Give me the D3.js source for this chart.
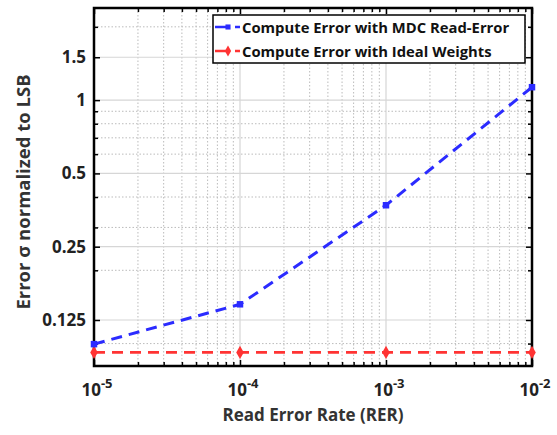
<!DOCTYPE html>
<html>
<head>
<meta charset="utf-8">
<script src="https://cdn.jsdelivr.net/npm/d3@7"></script>
<style>
  body { margin: 0; background: #fff; }
  text { font-family: "Open Sans", Lato, sans-serif; font-weight: bold; }
</style>
</head>
<body>
<div id="chart"></div>
<script>
// values
const rer = [1e-5, 1e-4, 1e-3, 1e-2];
const mdcError = [0.0995, 0.145, 0.37, 1.13];
const idealError = [0.092, 0.092, 0.092, 0.092];
const yMajor = [0.125, 0.25, 0.5, 1, 1.5];
const yMinor = [0.1, 0.2, 0.3, 0.4, 0.6, 0.7, 0.8, 0.9, 2];
const xMajor = [1e-5, 1e-4, 1e-3, 1e-2];
const seriesNames = ["Compute Error with MDC Read-Error", "Compute Error with Ideal Weights"];

const W = 557, H = 435;
const margin = {top: 8, right: 25, bottom: 69, left: 94};
const width = W - margin.left - margin.right,
      height = H - margin.top - margin.bottom;

const svg = d3.select("#chart").append("svg")
  .attr("width", W).attr("height", H);
const g = svg.append("g")
  .attr("transform", "translate(" + margin.left + "," + margin.top + ")");

const x = d3.scaleLog().domain([1e-5, 1e-2]).range([0, width]);
const y = d3.scaleLog().base(2).domain([0.0809, 2.39]).range([height, 0]);

// x minor values 2..9 per decade
const xMinor = [];
for (let e = -5; e < -2; e++) {
  for (let m = 2; m <= 9; m++) xMinor.push(m * Math.pow(10, e));
}

// grid
const grid = g.append("g");
grid.selectAll(".xminor").data(xMinor).join("line")
  .attr("x1", d => x(d)).attr("x2", d => x(d)).attr("y1", 0).attr("y2", height)
  .attr("stroke", "#bbb").attr("stroke-width", 1).attr("stroke-dasharray", "1.5,2");
grid.selectAll(".yminor").data(yMinor).join("line")
  .attr("y1", d => y(d)).attr("y2", d => y(d)).attr("x1", 0).attr("x2", width)
  .attr("stroke", "#bbb").attr("stroke-width", 1).attr("stroke-dasharray", "1.5,2");
grid.selectAll(".xmajor").data(xMajor).join("line")
  .attr("x1", d => x(d)).attr("x2", d => x(d)).attr("y1", 0).attr("y2", height)
  .attr("stroke", "#d6d6d6").attr("stroke-width", 1.2);
grid.selectAll(".ymajor").data(yMajor).join("line")
  .attr("y1", d => y(d)).attr("y2", d => y(d)).attr("x1", 0).attr("x2", width)
  .attr("stroke", "#d6d6d6").attr("stroke-width", 1.2);

// axes with inward ticks
const fmtY = d => String(d);
g.append("g").call(d3.axisLeft(y).tickValues(yMajor).tickFormat(fmtY).tickSize(-6).tickPadding(8))
  .call(a => a.selectAll("text").attr("font-size", 17).attr("fill", "#222"));
g.append("g").call(d3.axisLeft(y).tickValues(yMinor).tickFormat("").tickSize(-4));
g.append("g").attr("transform", "translate(" + width + ",0)")
  .call(d3.axisRight(y).tickValues(yMajor).tickFormat("").tickSize(-6));
g.append("g").attr("transform", "translate(" + width + ",0)")
  .call(d3.axisRight(y).tickValues(yMinor).tickFormat("").tickSize(-4));

g.append("g").attr("transform", "translate(0," + height + ")")
  .call(d3.axisBottom(x).tickValues(xMajor).tickFormat("").tickSize(-6));
g.append("g").attr("transform", "translate(0," + height + ")")
  .call(d3.axisBottom(x).tickValues(xMinor).tickFormat("").tickSize(-4));
g.append("g").call(d3.axisTop(x).tickValues(xMajor).tickFormat("").tickSize(-6));
g.append("g").call(d3.axisTop(x).tickValues(xMinor).tickFormat("").tickSize(-4));
g.selectAll(".domain").remove();
g.selectAll(".tick line").attr("stroke", "#000").attr("stroke-width", 1.5);

// x tick labels with superscript
const xl = g.append("g").selectAll("text").data(xMajor).join("text")
  .attr("x", d => x(d) + 3).attr("y", height + 30)
  .attr("text-anchor", "middle").attr("font-size", 17).attr("fill", "#222");
xl.append("tspan").text("10");
xl.append("tspan").attr("dy", -8).attr("font-size", 13)
  .text(d => "-" + String(-Math.round(Math.log10(d))));

// frame
g.append("rect").attr("width", width).attr("height", height)
  .attr("fill", "none").attr("stroke", "#000").attr("stroke-width", 2.5);

// lines
const line = d3.line().x((d, i) => x(rer[i])).y(d => y(d));
g.append("path").datum(idealError).attr("d", line)
  .attr("fill", "none").attr("stroke", "#ff3333").attr("stroke-width", 2.8)
  .attr("stroke-dasharray", "11,7");
g.append("path").datum(mdcError).attr("d", line)
  .attr("fill", "none").attr("stroke", "#2b2bff").attr("stroke-width", 3)
  .attr("stroke-dasharray", "11,7");

const sq = d3.symbol().type(d3.symbolSquare).size(42);
const dm = d3.symbol().type(d3.symbolDiamond).size(50);
g.selectAll(".mk2").data(idealError).join("path")
  .attr("d", dm).attr("transform", (d, i) => "translate(" + x(rer[i]) + "," + y(d) + ")")
  .attr("fill", "#ff3333");
g.selectAll(".mk1").data(mdcError).join("path")
  .attr("d", sq).attr("transform", (d, i) => "translate(" + x(rer[i]) + "," + y(d) + ")")
  .attr("fill", "#2b2bff");

// legend
const lg = g.append("g").attr("transform", "translate(119,7)");
lg.append("rect").attr("width", 312).attr("height", 48)
  .attr("fill", "#fff").attr("stroke", "#000").attr("stroke-width", 1.5);
const colors = ["#2b2bff", "#ff3333"];
seriesNames.forEach((name, i) => {
  const yy = 12 + i * 24;
  lg.append("line").attr("x1", 2).attr("x2", 14).attr("y1", yy).attr("y2", yy)
    .attr("stroke", colors[i]).attr("stroke-width", 2.5);
  lg.append("line").attr("x1", 22).attr("x2", 27).attr("y1", yy).attr("y2", yy)
    .attr("stroke", colors[i]).attr("stroke-width", 2.5);
  lg.append("path").attr("d", d3.symbol().type(i ? d3.symbolDiamond : d3.symbolSquare).size(i ? 34 : 26)())
    .attr("transform", "translate(15," + yy + ")").attr("fill", colors[i]);
  lg.append("text").attr("x", 29).attr("y", yy + 5.5).attr("font-size", 14.8)
    .attr("fill", "#111").text(name);
});

// axis titles
svg.append("text").attr("x", margin.left + width / 2).attr("y", 421)
  .attr("text-anchor", "middle").attr("font-size", 17).attr("fill", "#333")
  .text("Read Error Rate (RER)");
svg.append("text").attr("transform", "translate(30,192) rotate(-90)")
  .attr("text-anchor", "middle").attr("font-size", 18.5).attr("fill", "#333")
  .text("Error σ normalized to LSB");
</script>
</body>
</html>
